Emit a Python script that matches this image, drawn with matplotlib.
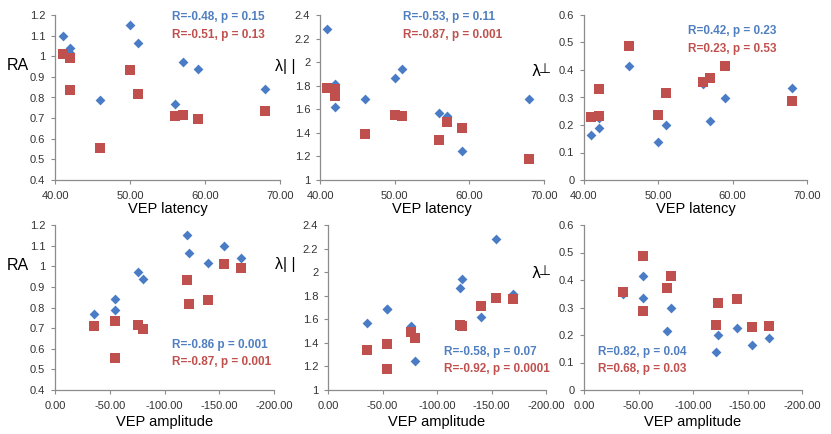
import numpy as np
import matplotlib
matplotlib.use("Agg")
import matplotlib.pyplot as plt
from matplotlib.ticker import FormatStrFormatter, FuncFormatter

plt.rcParams['font.family'] = ['Liberation Sans', 'DejaVu Sans']

# one entry per subject
latency   = [41, 42, 42, 46, 50, 51, 56, 57, 59, 68]
amplitude = [-154, -170, -140, -54.5, -121, -122.5, -35.5, -76, -80, -54.5]

ra_blue    = [1.10, 1.04, 1.015, 0.79, 1.15, 1.065, 0.77, 0.97, 0.94, 0.84]
ra_red     = [1.01, 0.99, 0.835, 0.555, 0.935, 0.818, 0.71, 0.715, 0.697, 0.735]
lpar_blue  = [2.28, 1.815, 1.62, 1.69, 1.865, 1.94, 1.57, 1.54, 1.25, 1.69]
lpar_red   = [1.78, 1.77, 1.71, 1.39, 1.555, 1.545, 1.34, 1.495, 1.437, 1.175]
lperp_blue = [0.162, 0.19, 0.224, 0.414, 0.139, 0.2, 0.35, 0.214, 0.297, 0.333]
lperp_red  = [0.23, 0.232, 0.331, 0.489, 0.238, 0.315, 0.356, 0.372, 0.416, 0.288]

stats_text = {
    (0, 0): ("R=-0.48, p = 0.15", "R=-0.51, p = 0.13"),
    (0, 1): ("R=-0.53, p = 0.11", "R=-0.87, p = 0.001"),
    (0, 2): ("R=0.42, p = 0.23", "R=0.23, p = 0.53"),
    (1, 0): ("R=-0.86 p = 0.001", "R=-0.87, p = 0.001"),
    (1, 1): ("R=-0.58, p = 0.07", "R=-0.92, p = 0.0001"),
    (1, 2): ("R=0.82, p = 0.04", "R=0.68, p = 0.03"),
}

BLUE = '#4a7cc6'
RED = '#c0504d'
TXT_BLUE = '#4f7fc0'
TXT_RED = '#c0504d'
GRAY = '#8c8c8c'

W, H = 831, 434
fig = plt.figure(figsize=(W / 100, H / 100), dpi=100)


def px_axes(left, right, top, bottom):
    return fig.add_axes([left / W, 1 - bottom / H, (right - left) / W, (bottom - top) / H])


# axes boxes in pixels: left, right, top, bottom
boxes = {
    (0, 0): (55, 280, 15, 180),
    (0, 1): (320, 544, 15, 180),
    (0, 2): (584, 807, 15, 180),
    (1, 0): (55, 274, 225, 390),
    (1, 1): (328, 546, 225, 390),
    (1, 2): (584, 802, 225, 390),
}
ycols = [(ra_blue, ra_red, 0.4, 1.2, 0.1),
         (lpar_blue, lpar_red, 1.0, 2.4, 0.2),
         (lperp_blue, lperp_red, 0.0, 0.6, 0.1)]
# text anchor (axes fraction) for the two stat lines
text_pos = {
    (0, 0): (0.52, 0.988, 0.879),
    (0, 1): (0.37, 0.988, 0.879),
    (0, 2): (0.466, 0.903, 0.794),
    (1, 0): (0.534, 0.273, 0.17),
    (1, 1): (0.533, 0.23, 0.127),
    (1, 2): (0.064, 0.23, 0.127),
}

for (r, c), box in boxes.items():
    ax = px_axes(*box)
    yb, yr, y0, y1, ystep = ycols[c]
    xs = latency if r == 0 else amplitude
    ax.scatter(xs, yb, marker='D', s=25, color=BLUE, zorder=3, linewidths=0)
    ax.scatter(xs, yr, marker='s', s=46, color=RED, zorder=4, linewidths=0)
    if r == 0:
        ax.set_xlim(40, 70)
        ax.set_xticks([40, 50, 60, 70])
        ax.set_xlabel('VEP latency', fontsize=10.5, labelpad=1)
    else:
        ax.set_xlim(0, -200)
        ax.set_xticks([0, -50, -100, -150, -200])
        ax.set_xlabel('VEP amplitude', fontsize=10.5, labelpad=3)
    ax.xaxis.set_major_formatter(FormatStrFormatter('%.2f'))
    ax.set_ylim(y0, y1)
    ax.set_yticks(np.round(np.arange(y0, y1 + ystep / 2, ystep), 2))
    ax.yaxis.set_major_formatter(FuncFormatter(lambda v, p: '%g' % round(v, 2)))
    for s in ['top', 'right']:
        ax.spines[s].set_visible(False)
    for s in ['left', 'bottom']:
        ax.spines[s].set_color(GRAY)
        ax.spines[s].set_linewidth(0.9)
    ax.tick_params(axis='both', colors=GRAY, labelcolor='#333333', labelsize=8,
                   length=3, width=0.8, direction='out')
    ax.tick_params(axis='x', pad=5)
    ax.tick_params(axis='y', pad=4)
    ax.patch.set_alpha(0)

    tx, ty1, ty2 = text_pos[(r, c)]
    t1, t2 = stats_text[(r, c)]
    ax.text(tx, ty1, t1, transform=ax.transAxes, color=TXT_BLUE, fontsize=8.5,
            fontweight='bold', va='center', ha='left', clip_on=False)
    ax.text(tx, ty2, t2, transform=ax.transAxes, color=TXT_RED, fontsize=8.5,
            fontweight='bold', va='center', ha='left', clip_on=False)

# y labels placed by hand like the original
for yc in [66, 265]:
    fig.text(18 / W, 1 - yc / H, 'RA', fontsize=11.5, ha='center', va='center')
    fig.text(285 / W, 1 - yc / H, 'λ| |', fontsize=11.5, ha='center', va='center')
for yc in [72, 274]:
    fig.text(536 / W, 1 - yc / H, 'λ', fontsize=11, ha='center', va='center',
             family=['DejaVu Sans'])
    fig.text(545 / W, 1 - (yc - 3) / H, '⊥', fontsize=10, ha='center', va='center',
             family=['DejaVu Sans'])

fig.savefig('out.png', dpi=100)
